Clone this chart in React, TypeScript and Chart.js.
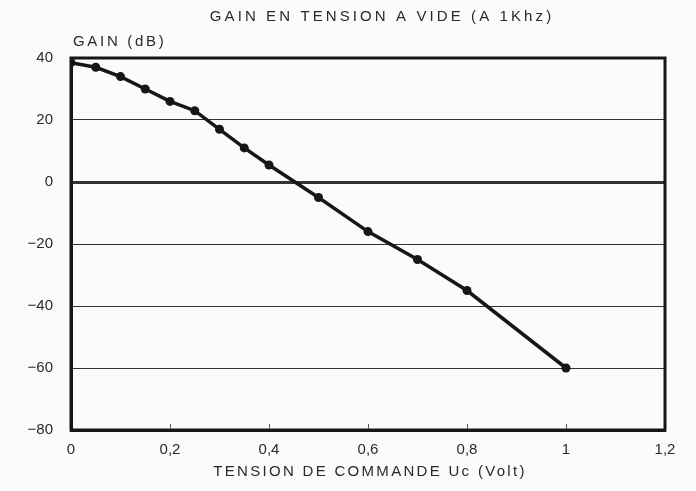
import React, { useEffect, useRef } from "react";
import { Chart, registerables } from "chart.js";

Chart.register(...registerables);

const TITLE = "GAIN EN TENSION A VIDE (A 1Khz)";
const Y_TITLE = "GAIN (dB)";
const X_TITLE = "TENSION DE COMMANDE Uc (Volt)";

const voltage = [0, 0.05, 0.1, 0.15, 0.2, 0.25, 0.3, 0.35, 0.4, 0.5, 0.6, 0.7, 0.8, 1.0];
const gain = [38.5, 37, 34, 30, 26, 23, 17, 11, 5.5, -5, -16, -25, -35, -60];

const X_MIN = 0;
const X_MAX = 1.2;
const X_STEP = 0.2;
const Y_MIN = -80;
const Y_MAX = 40;
const Y_STEP = 20;

const INK = "#161616";
const TEXT = "#2a2a2a";
const FONT = "Liberation Sans";

const framePlugin = {
  id: "frame",
  beforeDatasetsDraw(chart: any) {
    const { ctx, chartArea } = chart;
    const { left, right, top, bottom } = chartArea;
    ctx.save();
    ctx.strokeStyle = INK;
    ctx.lineWidth = 3;
    ctx.strokeRect(left, top, right - left, bottom - top);
    const xs = chart.scales.x;
    ctx.lineWidth = 1;
    ctx.strokeStyle = "#555";
    for (let v = X_STEP; v < X_MAX - 1e-9; v += X_STEP) {
      const px = Math.round(xs.getPixelForValue(v)) + 0.5;
      ctx.beginPath();
      ctx.moveTo(px, bottom - 1);
      ctx.lineTo(px, bottom - 6);
      ctx.stroke();
    }
    ctx.restore();
  },
  afterDraw(chart: any) {
    const { ctx, chartArea } = chart;
    const cx = (chartArea.left + chartArea.right) / 2;
    ctx.save();
    ctx.fillStyle = TEXT;
    ctx.font = `15px "${FONT}"`;
    ctx.textBaseline = "middle";
    ctx.textAlign = "center";
    (ctx as any).letterSpacing = "3.1px";
    ctx.fillText(TITLE, cx + 14, 17);
    (ctx as any).letterSpacing = "2.3px";
    ctx.fillText(X_TITLE, cx + 2, 472);
    ctx.textAlign = "left";
    (ctx as any).letterSpacing = "2.7px";
    ctx.fillText(Y_TITLE, chartArea.left + 2, 42);
    ctx.restore();
  },
};

export default function App() {
  const ref = useRef<HTMLCanvasElement | null>(null);

  useEffect(() => {
    document.body.style.margin = "0";
    document.body.style.background = "#fbfbf9";
    const canvas = ref.current;
    if (!canvas) return;
    const chart = new Chart(canvas, {
      type: "line",
      data: {
        datasets: [
          {
            data: voltage.map((v, i) => ({ x: v, y: gain[i] })),
            borderColor: INK,
            borderWidth: 3.5,
            pointRadius: 4.5,
            pointBackgroundColor: INK,
            pointBorderColor: INK,
            pointBorderWidth: 0,
            tension: 0,
            fill: false,
          },
        ],
      },
      options: {
        responsive: false,
        animation: false,
        maintainAspectRatio: false,
        layout: { padding: { top: 58, right: 31, left: 0, bottom: 0 } },
        plugins: {
          legend: { display: false },
          title: { display: false },
          tooltip: { enabled: false },
        },
        scales: {
          x: {
            type: "linear",
            min: X_MIN,
            max: X_MAX,
            afterFit: (s: any) => {
              s.height = 61;
            },
            ticks: {
              stepSize: X_STEP,
              color: TEXT,
              font: { family: FONT, size: 15 },
              padding: 11,
              maxRotation: 0,
              callback: (v: any) => String(Math.round(Number(v) * 10) / 10).replace(".", ","),
            },
            grid: { display: false, drawTicks: false },
            border: { display: true, color: INK, width: 3 },
          },
          y: {
            min: Y_MIN,
            max: Y_MAX,
            afterFit: (s: any) => {
              s.width = 71;
            },
            ticks: {
              stepSize: Y_STEP,
              color: TEXT,
              font: { family: FONT, size: 15 },
              padding: 18,
              callback: (v: any) => String(v).replace("-", "\u2212"),
            },
            grid: {
              drawTicks: false,
              color: "#333",
              lineWidth: (c: any) => (c.tick && c.tick.value === 0 ? 3 : 1),
            },
            border: { display: true, color: INK, width: 3 },
          },
        },
      },
      plugins: [framePlugin],
    });
    return () => chart.destroy();
  }, []);

  return (
    <div style={{ position: "absolute", left: 0, top: 0, width: 696, height: 491 }}>
      <canvas ref={ref} width={696} height={491} style={{ display: "block", width: 696, height: 491 }} />
    </div>
  );
}
